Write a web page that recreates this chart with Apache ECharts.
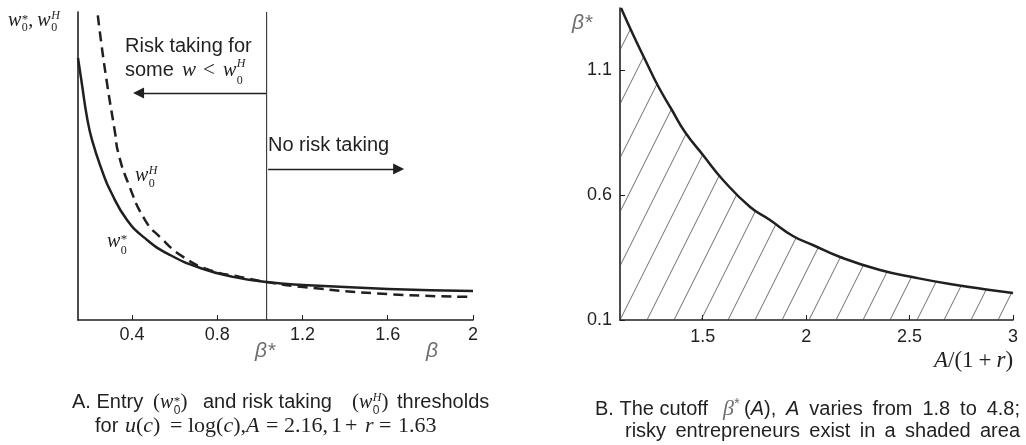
<!DOCTYPE html>
<html><head><meta charset="utf-8">
<script src="https://cdn.jsdelivr.net/npm/echarts@6/dist/echarts.min.js"></script>
<style>html,body{margin:0;padding:0;background:#fff}#c{width:1026px;height:445px}</style>
</head><body><div id="c"></div>
<script>
// ---------- data ----------
// Panel A: entry threshold w0* and risk-taking threshold w0^H vs beta (arbitrary vertical units)
const wStarBeta = [0.147,0.166,0.189,0.213,0.264,0.297,0.377,0.471,0.579,0.720,0.874,1.034,1.203,1.602,2.0];
const wStarVal  = [8.51,7.63,6.59,5.84,4.77,4.22,3.25,2.60,2.11,1.69,1.40,1.23,1.14,1.01,0.94];
const wHBeta    = [0.232,0.250,0.283,0.321,0.335,0.382,0.461,0.532,0.640,0.766,0.907,1.034,1.203,1.602,2.0];
const wHVal     = [10.4,9.32,7.69,6.07,5.45,4.45,3.25,2.69,2.05,1.62,1.40,1.23,1.07,0.84,0.75];
const betaCut   = 1.032;
const leftXTicks = [0.4,0.8,1.2,1.6,2];
// arrows (annotation, data coordinates)
const riskArrow   = {from:1.029, to:0.431, y:7.37};
const noRiskArrow = {from:1.039, to:1.651, y:4.90};

// Panel B: cutoff beta*(A) vs A/(1+r)
const ratioA    = [1.105,1.163,1.229,1.284,1.351,1.414,1.501,1.598,1.729,1.825,1.936,2.032,2.164,2.357,2.536,2.695,2.889,3.0];
const betaStarA = [1.348,1.242,1.128,1.036,0.940,0.852,0.760,0.660,0.552,0.500,0.436,0.400,0.352,0.300,0.268,0.244,0.220,0.208];
const rightXTicks = [1.5,2,2.5,3];
const rightYTicks = [0.1,0.6,1.1];

// ---------- styling helpers ----------
const SANS='"Liberation Sans", Arial, Helvetica, sans-serif';
const SERIF='"Liberation Serif", "Times New Roman", serif';
const INK='#231f20';
const GRAY='#6e6e6e';
const mctx=document.createElement('canvas').getContext('2d');
const G=[];
function fontOf(o){return (o.i?'italic':'normal')+' '+(o.s||20)+'px '+(o.f||SANS);}
function Mw(str,o){mctx.font=fontOf(o||{});return mctx.measureText(str).width;}
function T(x,base,str,o){
  o=o||{};const size=o.s||20;const font=fontOf(o);
  G.push({type:'text',silent:true,z:100,style:{text:str,x:x,y:base-0.31*size,font:font,fill:o.c||INK,
    align:o.a||'left',verticalAlign:'middle',textAlign:o.a||'left',textVerticalAlign:'middle'}});
  return Mw(str,o);
}
function W(x,base,sup,o){
  o=o||{};const s=o.s||20,ss=o.ss||12,gap=(o.gap==null?0.5:o.gap);
  const ww=T(x,base,'w',{s:s,f:SERIF,i:true,c:o.c});
  const sx=x+ww+gap;
  const up=(o.up==null?-7:o.up), dn=(o.dn==null?5:o.dn);
  let sw;
  if(sup==='*') sw=T(sx,base+up+4,'*',{s:ss+1,f:SERIF,c:o.c});
  else sw=T(sx,base+up,sup,{s:ss,f:SERIF,i:true,c:o.c});
  const bw=T(sx,base+dn,'0',{s:ss,f:o.subf||SERIF,c:o.c});
  return ww+gap+Math.max(sw,bw);
}
function S(x,base,parts){
  for(const p of parts){
    if(typeof p==='number'){x+=p;continue;}
    if(p.w){x+=W(x,base,p.w,p);} else {x+=T(x,base+(p.dy||0),p.t,p);}
  }
  return x;
}
// justified line: words separated by spaces stretched to span x0..x1
function J(x0,x1,base,tokens){
  const sp=Mw(' ',{});let nat=0,n=0;
  for(const t of tokens){ if(t==='_'){nat+=sp;n++;} else nat+=Mw(t.t,t); }
  const s=sp+(n?(x1-x0-nat)/n:0);let x=x0;
  for(const t of tokens){ if(t==='_'){x+=s;} else x+=T(x,base,t.t,t); }
}
function words(str){const out=[];str.split(' ').forEach((w,i)=>{if(i)out.push('_');out.push({t:w});});return out;}

// ---------- text annotations ----------
S(8,27,[{w:'*'},{t:',',f:SERIF,s:20},4,{w:'H'}]);
T(125,53,'Risk taking for');
T(125,77,'some');
T(182,77,'w',{f:SERIF,i:1,s:21});
T(203,77,'<',{f:SERIF,s:21});
W(223,77,'H',{up:-9,dn:8});
T(268,152,'No risk taking');
W(135,182,'H',{up:-7,dn:6});
W(107,248,'*',{up:-8,dn:7});
T(265,358,'β*',{s:21,i:1,c:GRAY,a:'center'});
T(432,358,'β',{s:21,i:1,c:GRAY,a:'center'});
T(572,30,'β*',{s:21,i:1,c:GRAY});
S(934,368,[{t:'A',f:SERIF,i:1,s:23},{t:'/(1',f:SERIF,s:23},5,{t:'+',f:SERIF,s:23},5,{t:'r',f:SERIF,i:1,s:23},{t:')',f:SERIF,s:23}]);

// caption A
T(72,409,'A. Entry');
S(153,409,[{t:'(',f:SERIF,s:21},{w:'*',subf:SANS},{t:')',f:SERIF,s:21}]);
T(203,409,'and risk taking');
S(352,409,[{t:'(',f:SERIF,s:21},{w:'H',subf:SANS},{t:')',f:SERIF,s:21}]);
T(397,409,'thresholds');
T(95,433,'for');
S(125,433,[{t:'u',f:SERIF,i:1,s:22},{t:'(',f:SERIF,s:22},{t:'c',f:SERIF,i:1,s:22},{t:')',f:SERIF,s:22}]);
T(170,433,'=',{f:SERIF,s:22});
S(188,433,[{t:'log(',f:SERIF,s:22},{t:'c',f:SERIF,i:1,s:22},{t:'),',f:SERIF,s:22}]);
T(246,433,'A',{f:SERIF,i:1,s:22});
T(266,433,'=',{f:SERIF,s:22});
T(284,433,'2.16,',{f:SERIF,s:22});
T(331,433,'1',{f:SERIF,s:22});
T(345,433,'+',{f:SERIF,s:22});
T(365,433,'r',{f:SERIF,i:1,s:22});
T(379,433,'=',{f:SERIF,s:22});
T(398,433,'1.63',{f:SERIF,s:22});

// caption B
T(595,416,'B. The cutoff');
S(723,416,[{t:'β',f:SERIF,i:1,s:22,c:GRAY},{t:'*',f:SANS,s:15,dy:-7,c:GRAY}]);
J(744,1020,416,[{t:'('},{t:'A',i:1},{t:'),'},'_',{t:'A',i:1},'_'].concat(words('varies from 1.8 to 4.8;')));
J(625,1020,438,words('risky entrepreneurs exist in a shaded area'));

// ---------- hatch pattern ----------
function hatch(){
  const w=27,h=54,off=-3,c=document.createElement('canvas');c.width=w;c.height=h;
  const x=c.getContext('2d');x.strokeStyle='#4a4a4a';x.lineWidth=0.8;
  for(const k of [0,1]){x.beginPath();x.moveTo(off+k*w,h);x.lineTo(off+(k+1)*w,0);x.stroke();}
  return c;
}
const zip=(a,b)=>a.map((v,i)=>[v,b[i]]);

const axisBase = {type:'value',splitLine:{show:false},axisLine:{show:true,onZero:false,lineStyle:{color:INK,width:1.6}}};
const lab = {fontSize:18,fontFamily:SANS,color:INK};
const option={
  animation:false,
  backgroundColor:'#fff',
  grid:[{left:78,top:12,width:395,height:308},{left:620,top:8,width:393,height:312}],
  xAxis:[
    Object.assign({},axisBase,{gridIndex:0,min:0.147,max:2,
      axisTick:{show:true,inside:true,length:5,customValues:leftXTicks,lineStyle:{color:INK,width:1}},
      axisLabel:Object.assign({customValues:leftXTicks,margin:6},lab)}),
    Object.assign({},axisBase,{gridIndex:1,min:1.1,max:3,
      axisTick:{show:true,inside:true,length:5,customValues:rightXTicks,lineStyle:{color:INK,width:1}},
      axisLabel:Object.assign({customValues:rightXTicks,margin:8},lab)})
  ],
  yAxis:[
    Object.assign({},axisBase,{gridIndex:0,min:0,max:10,axisTick:{show:false},axisLabel:{show:false}}),
    Object.assign({},axisBase,{gridIndex:1,min:0.1,max:1.348,
      axisTick:{show:true,inside:true,length:5,customValues:rightYTicks,lineStyle:{color:INK,width:1}},
      axisLabel:Object.assign({customValues:rightYTicks,margin:8},lab)})
  ],
  series:[
    {type:'line',xAxisIndex:0,yAxisIndex:0,data:zip(wStarBeta,wStarVal),symbol:'none',smooth:0.5,
      lineStyle:{color:INK,width:2.5},silent:true,z:3},
    {type:'line',xAxisIndex:0,yAxisIndex:0,data:zip(wHBeta,wHVal),symbol:'none',smooth:0.5,
      lineStyle:{color:INK,width:2.5,type:[10,6]},silent:true,z:3},
    {type:'line',xAxisIndex:0,yAxisIndex:0,data:[[betaCut,0],[betaCut,10]],symbol:'none',
      lineStyle:{color:INK,width:1},silent:true,z:2,
      markLine:{silent:true,symbol:['none','triangle'],symbolSize:11,label:{show:false},
        lineStyle:{color:INK,width:1.3,type:'solid'},
        data:[
          [{coord:[riskArrow.from,riskArrow.y]},{coord:[riskArrow.to,riskArrow.y]}],
          [{coord:[noRiskArrow.from,noRiskArrow.y]},{coord:[noRiskArrow.to,noRiskArrow.y]}]
        ]}},
    {type:'line',xAxisIndex:1,yAxisIndex:1,data:zip(ratioA,betaStarA),symbol:'none',smooth:0.5,
      lineStyle:{color:INK,width:2.5},silent:true,
      areaStyle:{origin:'start',opacity:1,color:{image:hatch(),repeat:'repeat'}}}
  ],
  graphic:G
};
const chart=echarts.init(document.getElementById('c'),null,{renderer:'canvas'});
chart.setOption(option);
</script></body></html>
